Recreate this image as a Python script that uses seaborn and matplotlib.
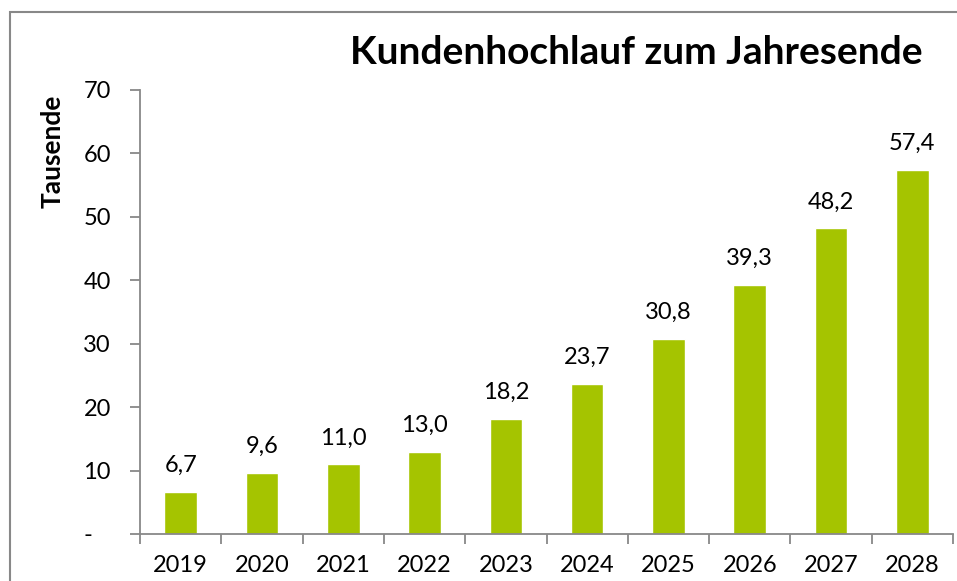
import matplotlib
matplotlib.use("Agg")
import matplotlib.pyplot as plt
import seaborn as sns
import pandas as pd
from matplotlib.patches import Rectangle

years = ["2019", "2020", "2021", "2022", "2023", "2024", "2025", "2026", "2027", "2028"]
values = [6.7, 9.6, 11.0, 13.0, 18.2, 23.7, 30.8, 39.3, 48.2, 57.4]
ytick_vals = [0, 10, 20, 30, 40, 50, 60, 70]
ytick_labels = ["-   ", "10", "20", "30", "40", "50", "60", "70"]
title = "Kundenhochlauf zum Jahresende"
ylabel = "Tausende"

sns.set_theme(style="white")
plt.rcParams['font.family'] = ['Lato', 'DejaVu Sans']

W, H = 957, 581
fig = plt.figure(figsize=(W / 100, H / 100), dpi=100)
ax = fig.add_axes([140 / W, 1 - 534 / H, (953 - 140) / W, (534 - 90) / H])

df = pd.DataFrame({"year": years, "value": values})
sns.barplot(data=df, x="year", y="value", color="#A5C400", width=0.4,
            saturation=1, ax=ax)

ax.set_xlim(-0.5, len(years) - 0.5)
ax.set_ylim(0, 70)
ax.set_yticks(ytick_vals)
ax.set_yticklabels(ytick_labels)
ax.set_xlabel("")
ax.set_ylabel("")

# category-boundary tick marks (Excel style)
ax.set_xticks([i - 0.5 for i in range(len(years) + 1)], minor=False)
ax.set_xticklabels([""] * (len(years) + 1))
ax.set_xticks(range(len(years)), minor=True)
ax.set_xticklabels(years, minor=True)
ax.tick_params(axis="x", which="major", direction="out", length=7, width=1.3,
               color="#888888", bottom=True)
ax.tick_params(axis="x", which="minor", length=0, labelsize=17, pad=15,
               labelcolor="black", bottom=True)
ax.tick_params(axis="y", direction="out", length=7, width=1.3, color="#888888",
               labelsize=17, pad=14, left=True, labelcolor="black")

for s in ["top", "right"]:
    ax.spines[s].set_visible(False)
for s in ["left", "bottom"]:
    ax.spines[s].set_color("#888888")
    ax.spines[s].set_linewidth(1.3)

for i, v in enumerate(values):
    ax.text(i, v + 2.5, f"{v:.1f}".replace(".", ","), ha="center", va="bottom",
            fontsize=17, color="black")

fig.text(636 / W, 1 - 52 / H, title, ha="center", va="center",
         fontsize=28, fontweight="bold", color="black")
fig.text(53 / W, 1 - 151 / H, ylabel, ha="center", va="center", rotation=90,
         fontsize=19, fontweight="bold", color="black")

fig.patches.append(Rectangle((10 / W, -0.1), 1.2, 1 - 12 / H + 0.1,
                             transform=fig.transFigure, fill=False,
                             edgecolor="#888888", linewidth=1.5))

fig.savefig("out.png", dpi=100)
